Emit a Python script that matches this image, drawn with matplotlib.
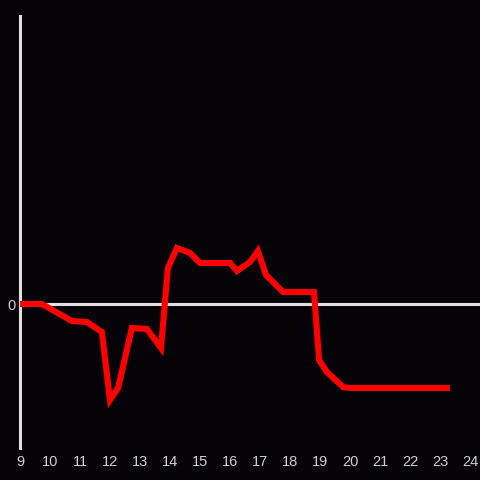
import matplotlib
matplotlib.use('Agg')
import matplotlib.pyplot as plt

# hour of day vs. value (arbitrary units)
hours = [9.0, 9.73, 10.73, 11.23, 11.73, 12.0, 12.27, 12.73, 13.23, 13.7,
         13.93, 14.23, 14.67, 15.0, 16.0, 16.23, 16.67, 16.93, 17.2, 17.77,
         18.8, 18.97, 19.23, 19.77, 20.0, 23.33]
values = [0.0, 0.0, -1.7, -1.8, -2.8, -9.6, -8.4, -2.4, -2.5, -4.4,
          3.6, 5.6, 5.1, 4.1, 4.1, 3.3, 4.2, 5.3, 2.9, 1.2,
          1.2, -5.6, -6.8, -8.3, -8.4, -8.4]
xticks = list(range(9, 25))

bg = '#050308'
axis_col = '#e0e0e0'
text_col = '#d0d0d0'

fig = plt.figure(figsize=(4.8, 4.8), dpi=100, facecolor=bg)
ax = fig.add_axes([20/480, 32/480, 460/480, 432/480], facecolor=bg)

ax.axhline(0, color=axis_col, lw=2.2, zorder=1)
ax.plot(hours, values, color='#ff0000', lw=4.4, solid_joinstyle='miter',
        solid_capstyle='butt', zorder=3)

ax.set_xlim(9, 9 + 460/30)
ax.set_ylim(-14.4, 28.8)

for s in ['top', 'right', 'bottom']:
    ax.spines[s].set_visible(False)
ax.spines['left'].set_color(axis_col)
ax.spines['left'].set_linewidth(2.2)

ax.set_xticks(xticks)
ax.set_xticklabels([str(t) for t in xticks])
ax.set_yticks([0])
ax.set_yticklabels(['0'])
ax.tick_params(length=0, colors=text_col, labelsize=10.5)
ax.tick_params(axis='x', pad=5)
ax.tick_params(axis='y', pad=3)
for lab in ax.get_xticklabels() + ax.get_yticklabels():
    lab.set_fontfamily('Liberation Sans')

fig.savefig('out.png', dpi=100, facecolor=bg)
